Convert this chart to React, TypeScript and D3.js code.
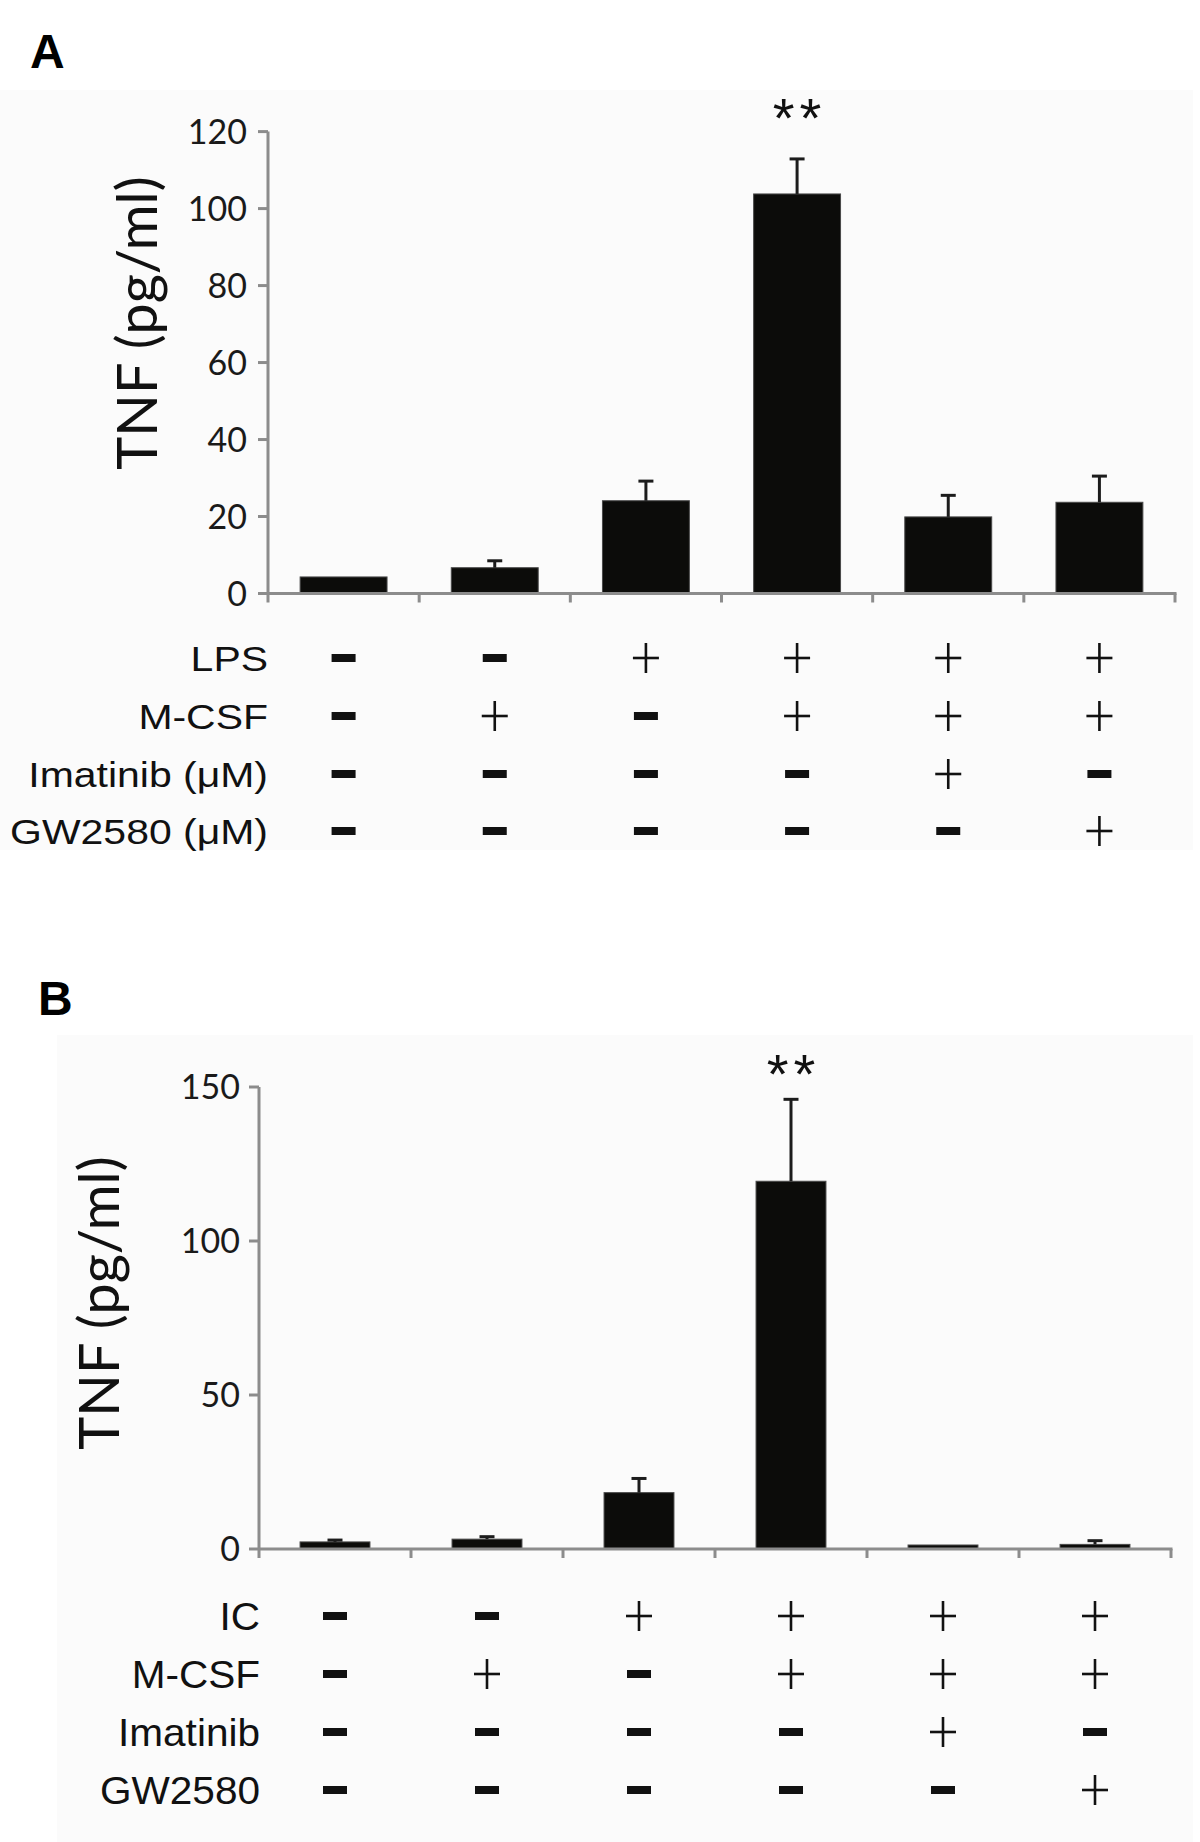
import * as d3 from 'd3';

// six treatment groups, left to right
const groups = ['g1', 'g2', 'g3', 'g4', 'g5', 'g6'];

// panel A: LPS stimulation
const tnfLps = [4.3, 6.7, 24.1, 103.8, 19.9, 23.7];
const semLps = [0, 1.8, 5.1, 9.1, 5.6, 6.8];
const ticksLps = [0, 20, 40, 60, 80, 100, 120];
const rowsLps = ['LPS', 'M-CSF', 'Imatinib (μM)', 'GW2580 (μM)'];
const signsLps = ['--++++', '-+-+++', '----+-', '-----+'];

// panel B: immune complex stimulation
const tnfIc = [2.3, 3.2, 18.3, 119.4, 1.3, 1.5];
const semIc = [0.6, 0.8, 4.6, 26.6, 0, 1.2];
const ticksIc = [0, 50, 100, 150];
const rowsIc = ['IC', 'M-CSF', 'Imatinib', 'GW2580'];
const signsIc = ['--++++', '-+-+++', '----+-', '-----+'];

const starIndex = 3;
const yTitle = 'TNF (pg/ml)';

const cfgA = {
  letter: 'A', letterX: 30, letterY: 68,
  bg: [0, 90, 1193, 760],
  x0: 268, x1: 1175, y0: 593.5, yTop: 131.6, yMax: 120, pad: 0.425,
  titleX: 157, titleY: 323, labelX: 268, tickLabelX: 247,
  rowY: [658, 716, 774, 831], starY: 137,
  rowFont: 35, rowStretch: 1.17,
};
const cfgB = {
  letter: 'B', letterX: 38, letterY: 1015,
  bg: [57, 1035, 1136, 807],
  x0: 259, x1: 1171, y0: 1549, yTop: 1087, yMax: 150, pad: 0.54,
  titleX: 119, titleY: 1303, labelX: 260, tickLabelX: 240,
  rowY: [1616, 1674, 1732, 1790], starY: 1093,
  rowFont: 39, rowStretch: 1.04,
};

function Panel({ cfg, values, errs, ticks, rows, signs }: any) {
  const x = d3.scaleBand<string>().domain(groups)
    .range([cfg.x0, cfg.x1]).paddingInner(cfg.pad).paddingOuter(cfg.pad / 2);
  const y = d3.scaleLinear().domain([0, cfg.yMax]).range([cfg.y0, cfg.yTop]);
  const step = x.step();
  const bounds = d3.range(groups.length + 1).map(i => cfg.x0 + i * step);
  const cx = (g: string) => (x(g) as number) + x.bandwidth() / 2;
  const axisCol = '#8c8c8c';

  return (
    <g>
      <rect x={cfg.bg[0]} y={cfg.bg[1]} width={cfg.bg[2]} height={cfg.bg[3]} fill="#fbfbfb" />
      <text x={cfg.letterX} y={cfg.letterY} fontFamily="Liberation Sans, Arial, sans-serif"
        fontWeight={700} fontSize={48}>{cfg.letter}</text>

      {/* bars */}
      {groups.map((g, i) => (
        <rect key={g} x={x(g)} y={y(values[i])} width={x.bandwidth()}
          height={cfg.y0 - y(values[i])} fill="#0c0c0a" stroke="#4a4a4a" strokeWidth={1} />
      ))}
      {/* error bars (upper only) */}
      {groups.map((g, i) => errs[i] > 0 && (
        <g key={g} stroke="#1c1c1c" strokeWidth={3}>
          <line x1={cx(g)} x2={cx(g)} y1={y(values[i])} y2={y(values[i] + errs[i])} />
          <line x1={cx(g) - 7.5} x2={cx(g) + 7.5} y1={y(values[i] + errs[i])} y2={y(values[i] + errs[i])} />
        </g>
      ))}

      {/* axes */}
      <line x1={cfg.x0} x2={cfg.x0} y1={y(cfg.yMax)} y2={cfg.y0 + 9} stroke={axisCol} strokeWidth={3} />
      <line x1={cfg.x0} x2={cfg.x1 + 1.5} y1={cfg.y0} y2={cfg.y0} stroke={axisCol} strokeWidth={3} />
      {bounds.slice(1).map((b, i) => (
        <line key={i} x1={b} x2={b} y1={cfg.y0} y2={cfg.y0 + 9} stroke={axisCol} strokeWidth={3} />
      ))}
      {ticks.map((t: number) => (
        <g key={t}>
          <line x1={cfg.x0 - 10} x2={cfg.x0} y1={y(t)} y2={y(t)} stroke={axisCol} strokeWidth={3} />
          <text x={cfg.tickLabelX} y={y(t) + 12} textAnchor="end" fontFamily="Lato, sans-serif"
            fontSize={34} fill="#1a1a1a">{t}</text>
        </g>
      ))}
      <text transform={`translate(${cfg.titleX},${cfg.titleY}) rotate(-90)`} textAnchor="middle"
        fontFamily="Lato, sans-serif" fontSize={56} fill="#111">{yTitle}</text>

      {/* significance */}
      <text x={cx(groups[starIndex]) + 2.5} y={cfg.starY} textAnchor="middle" letterSpacing={5}
        fontFamily="Liberation Sans, Arial, sans-serif" fontSize={56} fill="#111">**</text>

      {/* treatment table */}
      {rows.map((r: string, ri: number) => (
        <g key={r}>
          <text transform={`translate(${cfg.labelX},${cfg.rowY[ri] + cfg.rowFont * 0.36}) scale(${cfg.rowStretch},1)`}
            textAnchor="end" fontFamily="Liberation Sans, Arial, sans-serif"
            fontSize={cfg.rowFont} fill="#111">{r}</text>
          {groups.map((g, gi) => {
            const c = cx(g);
            const yy = cfg.rowY[ri];
            return signs[ri][gi] === '+' ? (
              <g key={g} stroke="#111" strokeWidth={2.6}>
                <line x1={c - 13} x2={c + 13} y1={yy} y2={yy} />
                <line x1={c} x2={c} y1={yy - 15} y2={yy + 15} />
              </g>
            ) : (
              <rect key={g} x={c - 12} y={yy - 4} width={24} height={8} fill="#111" />
            );
          })}
        </g>
      ))}
    </g>
  );
}

export default function App() {
  return (
    <div style={{ position: 'absolute', left: 0, top: 0 }}>
      <svg width={1200} height={1842} style={{ display: 'block', background: '#fff' }}>
        <Panel cfg={cfgA} values={tnfLps} errs={semLps} ticks={ticksLps} rows={rowsLps} signs={signsLps} />
        <Panel cfg={cfgB} values={tnfIc} errs={semIc} ticks={ticksIc} rows={rowsIc} signs={signsIc} />
      </svg>
    </div>
  );
}
